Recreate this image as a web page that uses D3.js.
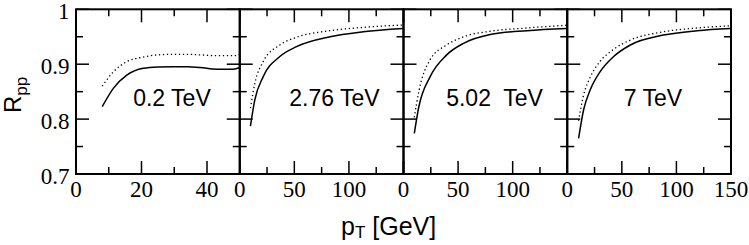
<!DOCTYPE html>
<html>
<head>
<script src="https://d3js.org/d3.v7.min.js"></script>
<style>
  html, body { margin: 0; padding: 0; background: #fff; }
  svg { display: block; }
</style>
</head>
<body>
<div id="chart"></div>
<script>
// panel labels and axes
var energies = ["0.2 TeV", "2.76 TeV", "5.02  TeV", "7 TeV"];
var xMax = [50, 150, 150, 150];
var xMajor = [[0, 20, 40], [0, 50, 100, 150], [0, 50, 100, 150], [0, 50, 100, 150]];
var xMinor = [[10, 30, 50], [25, 75, 125], [25, 75, 125], [25, 75, 125]];
var xLabels = [["0", "20", "40"], ["0", "50", "100"], ["0", "50", "100"], ["0", "50", "100", "150"]];
var yMajor = [0.7, 0.8, 0.9, 1.0];
var yMinor = [0.75, 0.85, 0.95];
var yLabels = ["0.7", "0.8", "0.9", "1"];

// curves (pT in GeV, R_pp)
var pt02 = [8, 11.4, 15.5, 20.5, 25, 29.7, 34, 37.9, 43, 48, 50];
var solid02 = [0.8226, 0.856, 0.880, 0.8925, 0.895, 0.8955, 0.8953, 0.894, 0.891, 0.891, 0.894];
var dotted02 = [0.860, 0.886, 0.9046, 0.913, 0.917, 0.918, 0.918, 0.917, 0.9155, 0.9155, 0.918];

var pt276 = [9.8, 13.8, 21.4, 36.7, 52, 82.6, 113, 149.5];
var solid276 = [0.7874, 0.835, 0.877, 0.914, 0.932, 0.950, 0.959, 0.965];
var dotted276 = [0.820, 0.865, 0.9046, 0.935, 0.949, 0.961, 0.967, 0.9714];

var pt502 = [9.9, 14, 24.3, 39.6, 55, 79.4, 113, 149.5];
var solid502 = [0.774, 0.822, 0.877, 0.917, 0.938, 0.954, 0.961, 0.965];
var dotted502 = [0.803, 0.850, 0.908, 0.935, 0.950, 0.960, 0.966, 0.971];

var pt7 = [10.4, 15, 21, 30, 42.5, 57.8, 88, 119, 149.5];
var solid7 = [0.765, 0.817, 0.853, 0.886, 0.914, 0.935, 0.953, 0.961, 0.965];
var dotted7 = [0.797, 0.844, 0.876, 0.905, 0.927, 0.944, 0.959, 0.966, 0.970];

var pts = [pt02, pt276, pt502, pt7];
var solids = [solid02, solid276, solid502, solid7];
var dotteds = [dotted02, dotted276, dotted502, dotted7];

var W = 749, H = 245;
var plotL = 76, plotR = 731, plotT = 9.3, plotB = 174;
var panelW = (plotR - plotL) / 4;
var serif = '"Liberation Serif", "Times New Roman", serif';
var sans = '"Liberation Sans", Arial, Helvetica, sans-serif';
// where each energy label sits, centred on this pT
var labelAt = [29.3, 86.8, 83.4, 78.5];

var svg = d3.select("#chart").append("svg").attr("width", W).attr("height", H);

var y = d3.scaleLinear().domain([0.7, 1.0]).range([plotB, plotT]);

energies.forEach(function(label, i) {
  var x0 = plotL + i * panelW;
  var x = d3.scaleLinear().domain([0, xMax[i]]).range([x0, x0 + panelW]);
  var g = svg.append("g");

  // ticks, inward on all four sides
  function vt(v, len) {
    g.append("line").attr("x1", x(v)).attr("x2", x(v)).attr("y1", plotB).attr("y2", plotB - len);
    g.append("line").attr("x1", x(v)).attr("x2", x(v)).attr("y1", plotT).attr("y2", plotT + len);
  }
  function ht(v, len) {
    g.append("line").attr("x1", x0).attr("x2", x0 + len).attr("y1", y(v)).attr("y2", y(v));
    g.append("line").attr("x1", x0 + panelW).attr("x2", x0 + panelW - len).attr("y1", y(v)).attr("y2", y(v));
  }
  xMajor[i].forEach(function(v) { vt(v, 13); });
  xMinor[i].forEach(function(v) { vt(v, 7); });
  yMajor.forEach(function(v) { ht(v, 13); });
  yMinor.forEach(function(v) { ht(v, 7); });
  g.selectAll("line").attr("stroke", "#000").attr("stroke-width", 1.5);

  g.append("rect")
    .attr("x", x0).attr("y", plotT).attr("width", panelW).attr("height", plotB - plotT)
    .attr("fill", "none").attr("stroke", "#000").attr("stroke-width", 2);

  // x tick labels
  xLabels[i].forEach(function(t) {
    svg.append("text")
      .attr("x", x(+t)).attr("y", 197)
      .attr("font-family", serif).attr("font-size", 23)
      .attr("text-anchor", "middle").text(t);
  });

  var line = d3.line()
    .x(function(d) { return x(d[0]); })
    .y(function(d) { return y(d[1]); })
    .curve(d3.curveMonotoneX);

  var sData = pts[i].map(function(p, k) { return [p, solids[i][k]]; });
  var dData = pts[i].map(function(p, k) { return [p, dotteds[i][k]]; });

  g.append("path").datum(dData).attr("d", line)
    .attr("fill", "none").attr("stroke", "#000").attr("stroke-width", 1.3)
    .attr("stroke-dasharray", "1.3,2.7");
  g.append("path").datum(sData).attr("d", line)
    .attr("fill", "none").attr("stroke", "#000").attr("stroke-width", 1.5);

  svg.append("text")
    .attr("x", x(labelAt[i])).attr("y", 106)
    .attr("font-family", sans).attr("font-size", 23)
    .attr("text-anchor", "middle")
    .style("white-space", "pre")
    .text(label);
});

// y tick labels
yMajor.forEach(function(v, k) {
  svg.append("text")
    .attr("x", 69.5).attr("y", y(v) + 9.5)
    .attr("font-family", serif).attr("font-size", 23)
    .attr("text-anchor", "end").text(yLabels[k]);
});

// axis titles
var yt = svg.append("text")
  .attr("font-family", sans)
  .attr("transform", "translate(21,113) rotate(-90)")
  .attr("font-size", 24);
yt.append("tspan").text("R");
yt.append("tspan").attr("font-size", 17).attr("dy", 6).text("pp");

var xt = svg.append("text")
  .attr("font-family", sans)
  .attr("x", 341).attr("y", 235).attr("font-size", 25);
xt.append("tspan").text("p");
xt.append("tspan").attr("font-size", 17).attr("dy", 3).text("T");
xt.append("tspan").attr("dy", -3).attr("dx", 7).text("[GeV]");
</script>
</body>
</html>
